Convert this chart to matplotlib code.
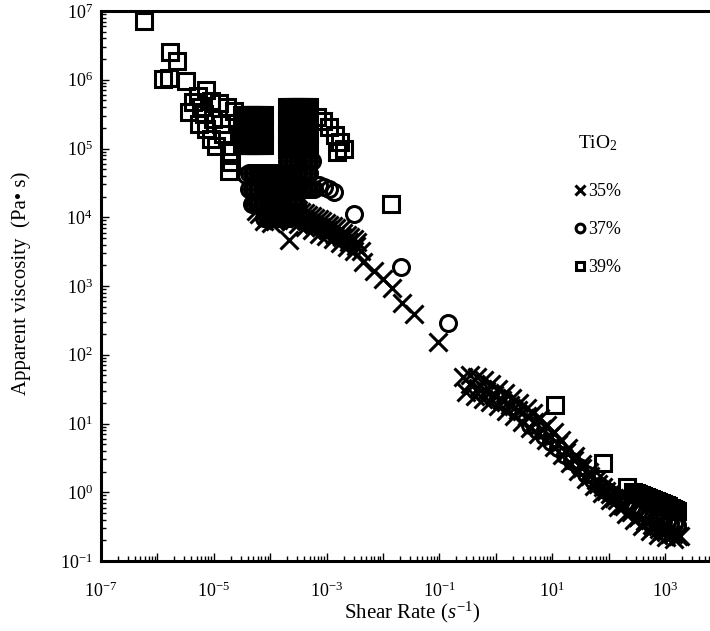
import numpy as np
import matplotlib
matplotlib.use("Agg")
import matplotlib.pyplot as plt
from matplotlib.ticker import LogLocator, FixedLocator, FuncFormatter, NullFormatter

plt.rcParams['font.family'] = ['Liberation Serif', 'DejaVu Serif']
plt.rcParams['mathtext.fontset'] = 'custom'
plt.rcParams['mathtext.rm'] = 'Liberation Serif'
plt.rcParams['mathtext.it'] = 'Liberation Serif:italic'

# TiO2 35 % (crosses)
x35 = [5.5e-5, 7.7e-5, 1.02e-4, 1.36e-4, 1.73e-4, 2.12e-4,
       6.3e-5, 8.7e-5, 1.2e-4, 1.53e-4, 1.96e-4,
       2.6e-4, 3.5e-4, 4.6e-4, 6.1e-4, 8.2e-4, 1.08e-3, 1.44e-3, 1.92e-3, 2.55e-3, 3.4e-3,
       3.07e-4, 4.1e-4, 5.4e-4, 7.2e-4, 9.6e-4, 1.28e-3, 1.7e-3, 2.26e-3, 3.0e-3,
       2.5e-4, 3.3e-4, 4.4e-4, 5.9e-4, 7.8e-4, 1.04e-3, 1.39e-3, 1.84e-3, 2.45e-3, 3.26e-3, 4.0e-3,
       2.3e-4, 3.07e-4, 4.1e-4, 5.4e-4, 7.2e-4, 9.6e-4, 1.28e-3, 1.7e-3, 2.26e-3, 3.0e-3,
       4.5e-3, 6.8e-3, 9.8e-3, 1.47e-2, 2.2e-2, 3.5e-2, 9.6e-2,
       0.266, 0.354, 0.47, 0.625, 0.83, 1.11, 1.47, 1.96, 2.6, 3.5, 4.6, 6.1, 8.2, 10.8,
       14.4, 19.2, 25.5, 34, 45, 60, 80, 106, 141, 188, 250, 333, 443, 589, 783, 1040,
       1387, 1841,
       0.354, 0.49, 0.68, 0.94, 1.30, 1.81, 2.5, 3.5, 4.8, 6.7, 9.2, 12.8, 17.7, 24.5, 34,
       47, 65, 90, 125, 173, 240, 333, 461, 638, 885, 1226, 1700,
       0.30, 0.42, 0.58, 0.80, 1.11, 1.53, 2.1, 2.9, 4.1, 5.6, 7.8, 10.8, 15, 20.8, 29,
       40, 55, 77, 106, 147, 204, 283, 392, 543, 752, 1040, 1440]
y35 = [1.22e4, 8.7e3, 8.2e3, 9.0e3, 9.7e3, 4.6e3,
       1.11e4, 9.7e3, 8.7e3, 1.0e4, 1.07e4,
       1.31e4, 1.18e4, 1.07e4, 9.7e3, 8.7e3, 7.6e3, 6.9e3, 6.0e3, 5.1e3, 4.3e3,
       1.26e4, 1.14e4, 1.03e4, 9.4e3, 8.2e3, 7.4e3, 6.5e3, 5.6e3, 4.8e3,
       1.07e4, 9.7e3, 8.7e3, 7.9e3, 7.1e3, 6.5e3, 5.6e3, 5.1e3, 4.3e3, 3.8e3, 3.2e3,
       8.7e3, 7.9e3, 7.1e3, 6.5e3, 5.8e3, 5.3e3, 4.8e3, 4.2e3, 3.65e3, 3.2e3,
       2.2e3, 1.63e3, 1.25e3, 920, 557, 385, 151,
       48, 51, 48, 43, 38, 32, 28, 23.8, 20, 17, 14.4, 12.2, 9.6, 7.6,
       5.8, 4.4, 3.4, 2.6, 1.98, 1.52, 1.2, 0.95, 0.77, 0.63, 0.52, 0.44, 0.38, 0.335, 0.29, 0.265,
       0.25, 0.23,
       38, 33, 30, 26, 22, 18.8, 15.9, 13, 10.6, 8.4, 6.6, 5.1, 3.9, 2.97, 2.27,
       1.73, 1.32, 1.05, 0.83, 0.65, 0.54, 0.44, 0.37, 0.31, 0.27, 0.25, 0.23,
       29, 25.4, 23, 20.8, 18.2, 15.4, 13, 10.6, 8.7, 7.1, 5.8, 4.6, 3.5, 2.7, 2.05,
       1.57, 1.24, 0.98, 0.77, 0.61, 0.48, 0.40, 0.32, 0.27, 0.24, 0.224, 0.21]

# TiO2 37 % (circles)
x37 = [1.96e-4, 2.17e-4, 2.40e-4, 2.66e-4, 2.94e-4, 3.26e-4, 3.60e-4, 3.99e-4, 4.42e-4,
       4.89e-4, 5.41e-4,
       4.25e-5, 4.71e-5, 5.21e-5, 5.77e-5, 6.39e-5, 7.07e-5, 7.83e-5, 8.67e-5, 9.6e-5,
       1.06e-4, 1.18e-4, 1.30e-4, 1.44e-4, 1.60e-4, 1.77e-4, 1.96e-4, 2.17e-4, 2.40e-4,
       2.66e-4, 2.94e-4, 3.26e-4, 3.60e-4, 3.99e-4, 4.42e-4, 4.89e-4,
       4.25e-5, 4.71e-5, 5.21e-5, 5.77e-5, 6.39e-5, 7.07e-5, 7.83e-5, 8.67e-5, 9.6e-5,
       1.06e-4, 1.18e-4, 1.30e-4, 1.44e-4, 1.60e-4, 1.77e-4, 1.96e-4, 2.17e-4, 2.40e-4,
       2.66e-4, 2.94e-4, 3.26e-4, 3.60e-4, 3.99e-4, 4.42e-4, 4.89e-4, 5.41e-4, 5.99e-4,
       7.35e-4, 9.0e-4, 1.10e-3, 1.35e-3,
       4.71e-5, 5.21e-5, 5.77e-5, 6.39e-5, 7.07e-5, 7.83e-5, 8.67e-5, 9.6e-5, 1.06e-4,
       1.18e-4, 1.30e-4, 1.44e-4, 1.60e-4, 1.77e-4, 1.96e-4, 2.17e-4, 2.40e-4, 2.66e-4, 2.94e-4,
       7.83e-5, 8.67e-5, 9.6e-5, 1.06e-4, 1.18e-4, 1.30e-4, 1.44e-4, 1.60e-4, 1.77e-4,
       1.96e-4, 2.17e-4,
       3.7e-5, 3.0e-3, 2.04e-2, 0.144,
       4.1, 5.4, 7.2, 9.6, 12.8, 17.0, 22.6, 30, 40, 53, 71, 94, 125, 166, 221, 294, 392,
       521, 693, 922, 1226, 1630,
       82, 108, 144, 192, 255, 340, 452, 601, 800, 1064, 1413]
y37 = [6.5e4, 6.5e4, 6.5e4, 6.5e4, 6.5e4, 6.5e4, 6.5e4, 6.5e4, 6.5e4,
       6.5e4, 6.5e4,
       4.4e4, 4.4e4, 4.4e4, 4.4e4, 4.4e4, 4.4e4, 4.4e4, 4.4e4, 4.4e4,
       4.4e4, 4.4e4, 4.4e4, 4.4e4, 4.4e4, 4.4e4, 4.4e4, 4.4e4, 4.4e4,
       4.4e4, 4.4e4, 4.4e4, 4.4e4, 4.4e4, 4.4e4, 4.4e4,
       2.56e4, 2.56e4, 2.56e4, 2.56e4, 2.56e4, 2.56e4, 2.56e4, 2.56e4, 2.56e4,
       2.56e4, 2.56e4, 2.56e4, 2.56e4, 2.56e4, 2.56e4, 2.56e4, 2.56e4, 2.56e4,
       2.56e4, 2.56e4, 2.56e4, 2.56e4, 2.56e4, 2.56e4, 2.56e4, 2.56e4, 2.56e4,
       2.9e4, 2.8e4, 2.6e4, 2.3e4,
       1.55e4, 1.55e4, 1.55e4, 1.55e4, 1.55e4, 1.55e4, 1.55e4, 1.55e4, 1.55e4,
       1.55e4, 1.55e4, 1.55e4, 1.55e4, 1.55e4, 1.55e4, 1.55e4, 1.55e4, 1.55e4, 1.55e4,
       9.7e3, 9.7e3, 9.7e3, 9.7e3, 9.7e3, 9.7e3, 9.7e3, 9.7e3, 9.7e3,
       9.7e3, 9.7e3,
       4.1e4, 1.11e4, 1.87e3, 294,
       9.6, 8.1, 6.6, 5.4, 4.4, 3.5, 2.87, 2.34, 1.85, 1.52, 1.24, 1.05, 0.89, 0.77, 0.68,
       0.59, 0.52, 0.47, 0.42, 0.38, 0.36, 0.335,
       1.12, 0.95, 0.83, 0.72, 0.63, 0.555, 0.48, 0.44, 0.40, 0.37, 0.346]

# TiO2 39 % (squares)
x39 = [5.8e-7, 1.66e-6, 2.2e-6, 1.25e-6, 1.6e-6, 3.2e-6, 7.2e-6, 5.2e-6, 3.6e-6, 4.2e-6,
       5.9e-6, 8.9e-6, 1.22e-5, 1.7e-5, 5.4e-6, 7.2e-6, 8.9e-6, 1.08e-5, 1.84e-5, 2.0e-5,
       1.84e-5, 6.7e-6, 9.6e-6, 1.33e-5, 1.44e-5, 2.26e-5,
       3.13e-5, 3.47e-5, 3.84e-5, 4.25e-5, 4.71e-5, 5.21e-5, 5.77e-5, 6.38e-5, 7.08e-5, 7.83e-5,
       3.13e-5, 3.47e-5, 3.84e-5, 4.25e-5, 4.71e-5, 5.21e-5, 5.77e-5, 6.38e-5, 7.08e-5, 7.83e-5,
       3.13e-5, 3.47e-5, 3.84e-5, 4.25e-5, 4.71e-5, 5.21e-5, 5.77e-5, 6.38e-5, 7.08e-5, 7.83e-5,
       1.96e-4, 2.17e-4, 2.4e-4, 2.66e-4, 2.94e-4, 3.26e-4, 3.61e-4, 3.99e-4, 4.42e-4, 4.89e-4,
       1.96e-4, 2.17e-4, 2.4e-4, 2.66e-4, 2.94e-4, 3.26e-4, 3.61e-4, 3.99e-4, 4.42e-4, 4.89e-4,
       1.96e-4, 2.17e-4, 2.4e-4, 2.66e-4, 2.94e-4, 3.26e-4, 3.61e-4, 3.99e-4, 4.42e-4, 4.89e-4,
       1.96e-4, 2.17e-4, 2.4e-4, 2.66e-4, 2.94e-4, 3.26e-4, 3.61e-4, 3.99e-4, 4.42e-4, 4.89e-4,
       6.7e-4, 8.5e-4, 1.08e-3, 1.39e-3, 1.7e-3, 2.0e-3, 1.5e-3,
       1.36e-2, 11.3, 80, 212,
       272, 333, 408, 500, 614, 752, 922, 1130, 1387, 1630,
       301, 368, 452, 553, 679, 832, 1020, 1250, 1503]
y39 = [7.2e6, 2.5e6, 1.88e6, 1.03e6, 1.06e6, 9.6e5, 7.1e5, 5.8e5, 3.4e5, 4.7e5,
       4.0e5, 4.9e5, 4.6e5, 4.0e5, 2.3e5, 1.92e5, 1.37e5, 1.08e5, 8.9e4, 6.3e4,
       4.7e4, 3.2e5, 2.7e5, 2.3e5, 1.62e5, 3.5e5,
       3.07e5, 3.07e5, 3.07e5, 3.07e5, 3.07e5, 3.07e5, 3.07e5, 3.07e5, 3.07e5, 3.07e5,
       1.85e5, 1.85e5, 1.85e5, 1.85e5, 1.85e5, 1.85e5, 1.85e5, 1.85e5, 1.85e5, 1.85e5,
       1.12e5, 1.12e5, 1.12e5, 1.12e5, 1.12e5, 1.12e5, 1.12e5, 1.12e5, 1.12e5, 1.12e5,
       4.0e5, 4.0e5, 4.0e5, 4.0e5, 4.0e5, 4.0e5, 4.0e5, 4.0e5, 4.0e5, 4.0e5,
       2.5e5, 2.5e5, 2.5e5, 2.5e5, 2.5e5, 2.5e5, 2.5e5, 2.5e5, 2.5e5, 2.5e5,
       1.57e5, 1.57e5, 1.57e5, 1.57e5, 1.57e5, 1.57e5, 1.57e5, 1.57e5, 1.57e5, 1.57e5,
       9.8e4, 9.8e4, 9.8e4, 9.8e4, 9.8e4, 9.8e4, 9.8e4, 9.8e4, 9.8e4, 9.8e4,
       2.87e5, 2.5e5, 2.05e5, 1.57e5, 1.24e5, 9.8e4, 8.9e4,
       1.55e4, 18.8, 2.7, 1.2,
       1.01, 0.95, 0.89, 0.83, 0.77, 0.72, 0.68, 0.63, 0.57, 0.54,
       0.98, 0.92, 0.86, 0.80, 0.75, 0.70, 0.65, 0.60, 0.555]

labels = ['35%', '37%', '39%']
xticks = [1e-7, 1e-6, 1e-5, 1e-4, 1e-3, 1e-2, 1e-1, 1e0, 1e1, 1e2, 1e3]
yticks = [1e-1, 1e0, 1e1, 1e2, 1e3, 1e4, 1e5, 1e6, 1e7]

fig = plt.figure(figsize=(7.1, 6.31), dpi=100)
ax = fig.add_axes([101 / 710, 70 / 631, 609 / 710, 550 / 631])

mk = dict(linestyle='none', color='black', mfc='none', mec='black', mew=2.2, snap=False)
ax.plot(x35, y35, marker='x', ms=12.5, label=labels[0], **mk)
ax.plot(x37, y37, marker='o', ms=11.5, label=labels[1], **mk)
ax.plot(x39, y39, marker='s', ms=11.5, label=labels[2], **mk)

ax.set_xscale('log')
ax.set_yscale('log')
ax.set_xlim(1e-7, 10 ** 3.796)
ax.set_ylim(1e-1, 1e7)

ax.xaxis.set_major_locator(FixedLocator(xticks))
ax.yaxis.set_major_locator(FixedLocator(yticks))
ax.xaxis.set_minor_locator(LogLocator(base=10, subs=np.arange(2, 10), numticks=20))
ax.yaxis.set_minor_locator(LogLocator(base=10, subs=np.arange(2, 10), numticks=20))


def xfmt(v, pos):
    e = int(round(np.log10(v)))
    if e % 2 == 0:
        return ''
    return r'$\mathregular{10^{%d}}$' % e


def yfmt(v, pos):
    e = int(round(np.log10(v)))
    return r'$\mathregular{10^{%d}}$' % e


ax.xaxis.set_major_formatter(FuncFormatter(xfmt))
ax.yaxis.set_major_formatter(FuncFormatter(yfmt))
ax.xaxis.set_minor_formatter(NullFormatter())
ax.yaxis.set_minor_formatter(NullFormatter())

ax.tick_params(which='both', direction='in', top=False, right=False, width=1.0, labelsize=13)
ax.tick_params(which='major', length=6)
ax.tick_params(which='minor', length=3.5)
ax.tick_params(axis='x', pad=15)
ax.tick_params(axis='y', pad=6)

for s in ['left', 'bottom', 'top']:
    ax.spines[s].set_linewidth(2.2)
ax.spines['right'].set_visible(False)

ax.set_xlabel(r'Shear Rate ($\mathit{s}^{\mathregular{-1}}$)', fontsize=15)
ax.set_ylabel('Apparent viscosity  (Pa\u2022 s)', fontsize=15)
ax.xaxis.set_label_coords(0.51, -0.07)
ax.yaxis.set_label_coords(-0.115, 0.505)

leg = ax.legend(title=r'TiO$_\mathregular{2}$', loc='upper left', bbox_to_anchor=(0.778, 0.778),
                frameon=False, markerscale=0.55, handlelength=0.6, handletextpad=0.15,
                labelspacing=1.15, fontsize=13, title_fontsize=14, borderpad=0,
                borderaxespad=0)
leg._legend_box.sep = 22

fig.savefig('out.png', dpi=100)
